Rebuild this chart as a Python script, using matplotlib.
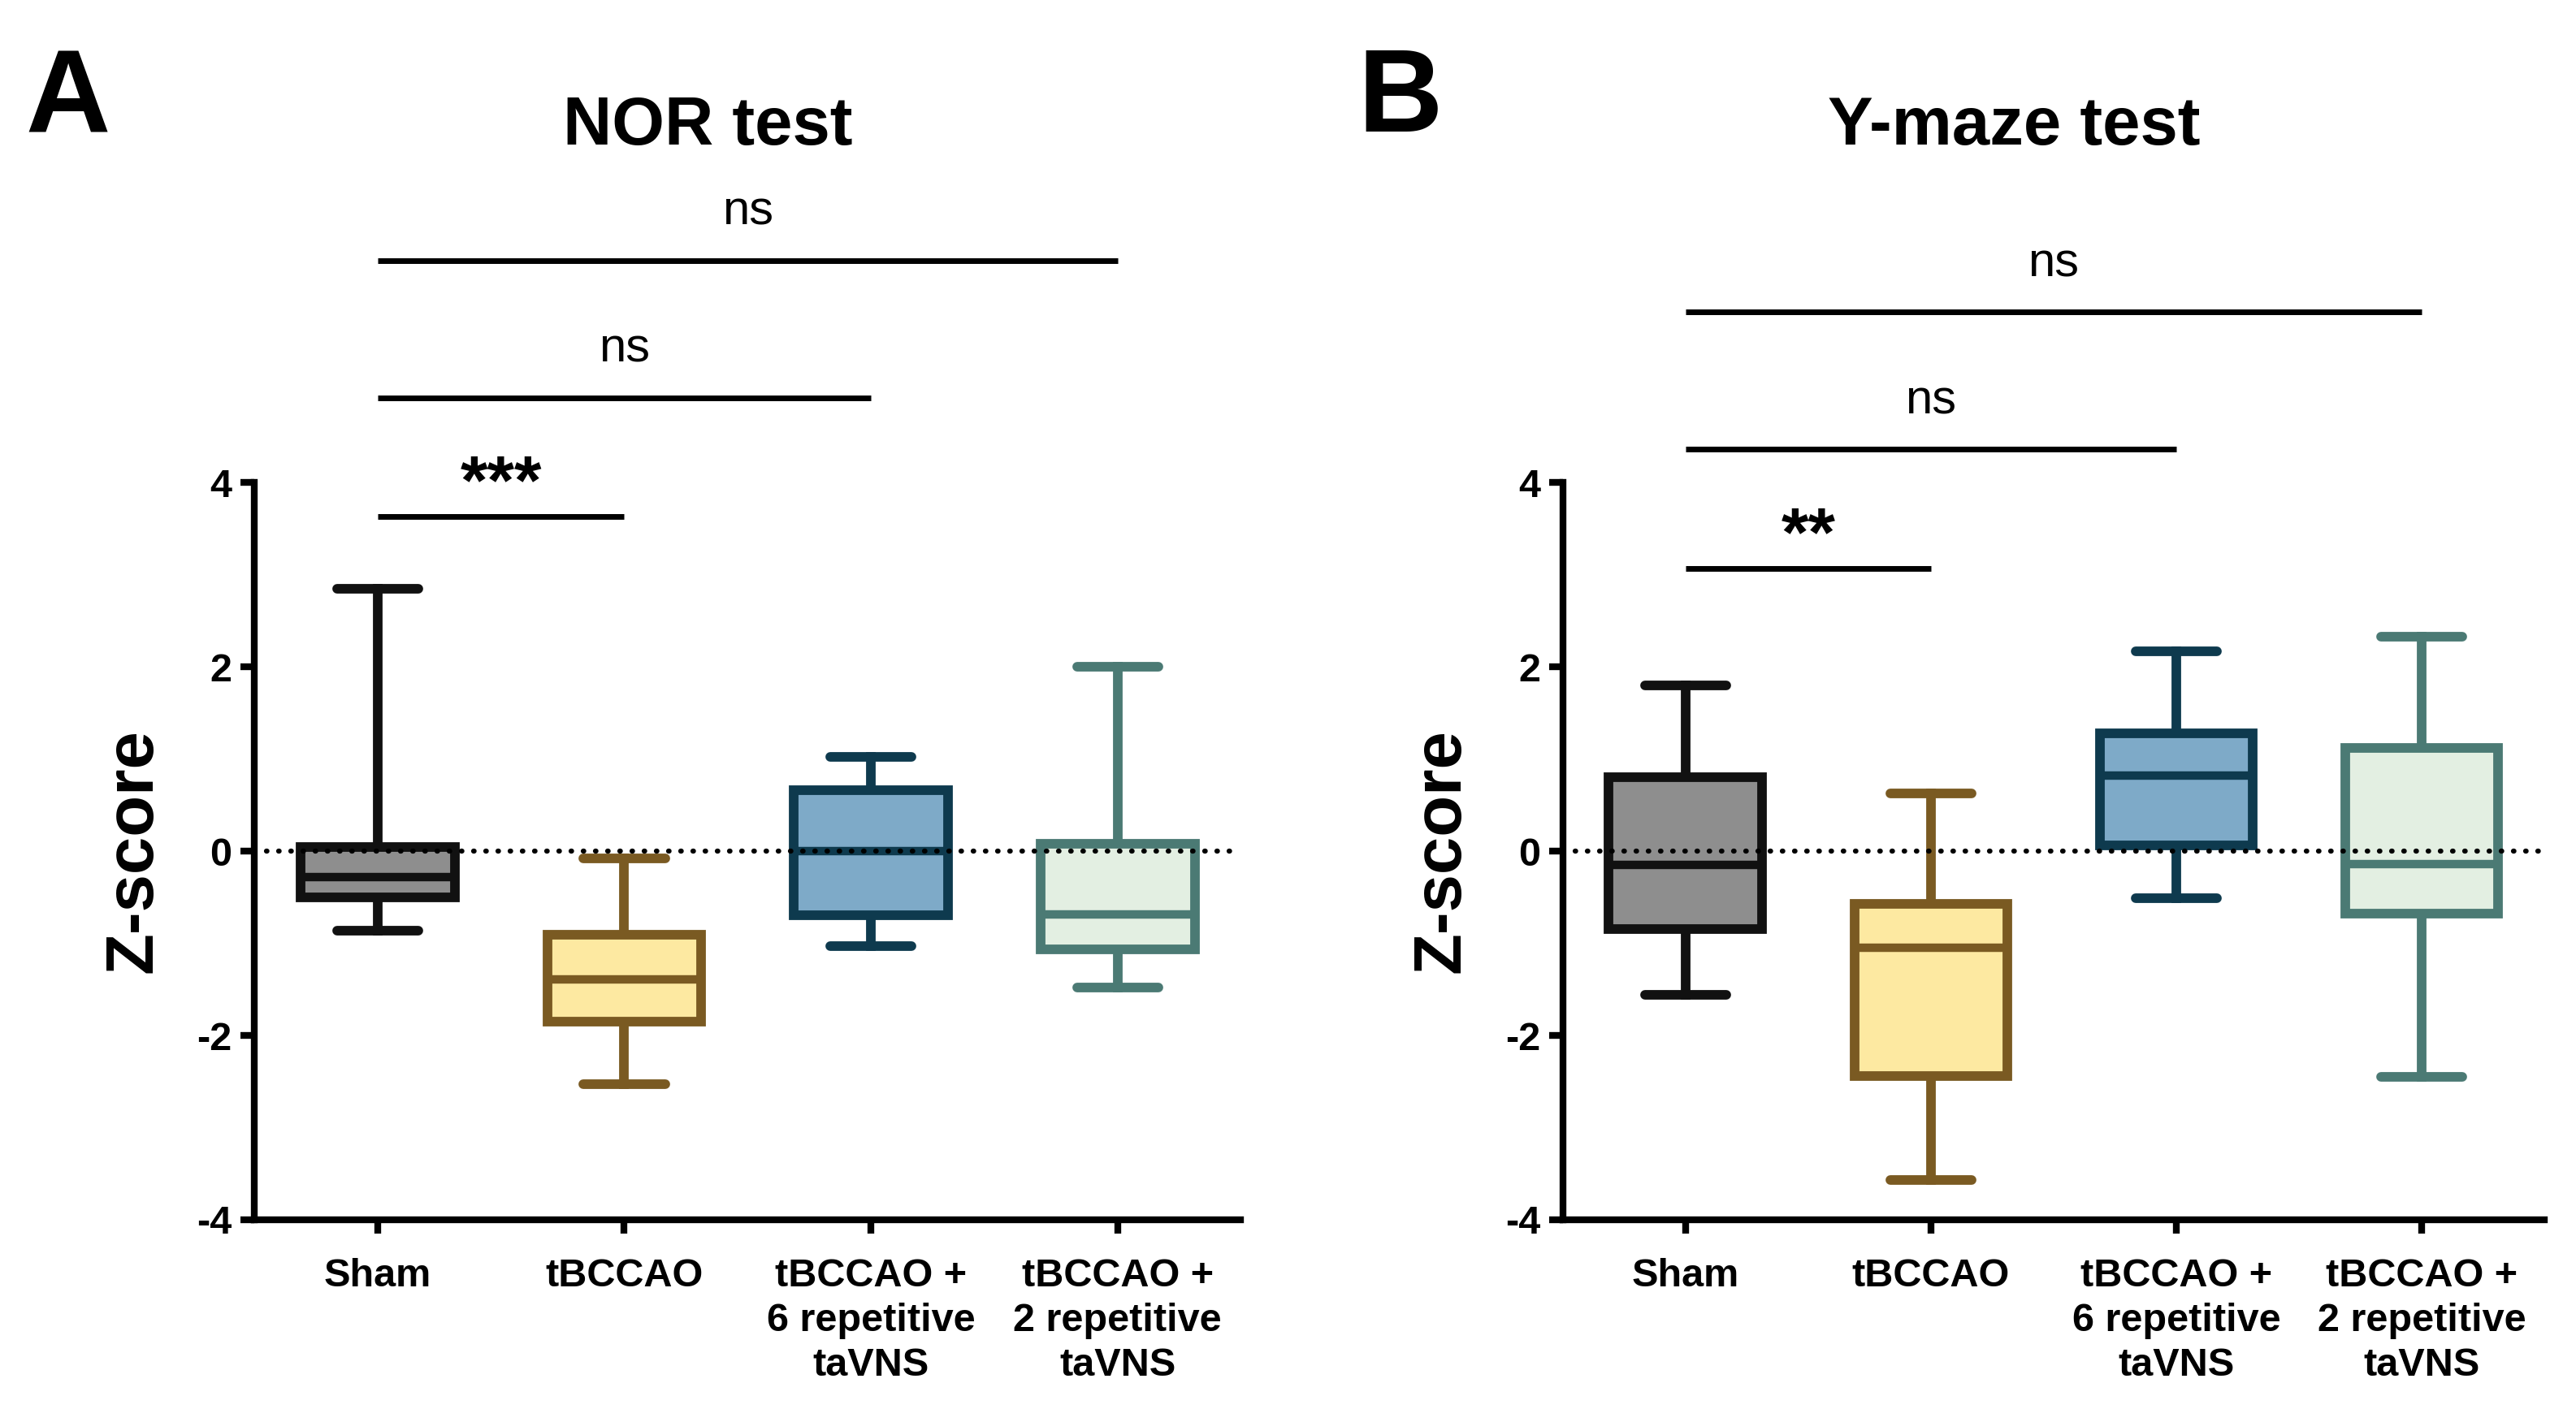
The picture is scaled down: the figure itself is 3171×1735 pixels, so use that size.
import matplotlib
matplotlib.use("Agg")
import matplotlib.pyplot as plt

plt.rcParams['font.family'] = ['Liberation Sans', 'DejaVu Sans']

groups = ["Sham", "tBCCAO", "tBCCAO +\n6 repetitive\ntaVNS", "tBCCAO +\n2 repetitive\ntaVNS"]
face_colors = ["#8e8e8e", "#fde9a1", "#7eaac8", "#e3efe2"]
edge_colors = ["#111111", "#7a5a22", "#0e3a4e", "#4b7a74"]

# box stats: whisker low, Q1, median, Q3, whisker high
nor_low = [-0.86, -2.53, -1.03, -1.48]
nor_q1 = [-0.50, -1.85, -0.70, -1.07]
nor_med = [-0.28, -1.39, 0.00, -0.69]
nor_q3 = [0.04, -0.91, 0.66, 0.08]
nor_high = [2.85, -0.08, 1.02, 2.00]

ym_low = [-1.56, -3.57, -0.51, -2.45]
ym_q1 = [-0.85, -2.44, 0.06, -0.68]
ym_med = [-0.15, -1.05, 0.82, -0.14]
ym_q3 = [0.80, -0.57, 1.28, 1.12]
ym_high = [1.80, 0.63, 2.17, 2.33]

# significance brackets: (from group, to group, bar height, label)
nor_sig = [(0, 1, 3.63, "***"), (0, 2, 4.92, "ns"), (0, 3, 6.41, "ns")]
ym_sig = [(0, 1, 3.07, "**"), (0, 2, 4.36, "ns"), (0, 3, 5.85, "ns")]

W, H = 3171, 1735
fig = plt.figure(figsize=(W / 100, H / 100), dpi=100)
axA = fig.add_axes([0.0987, 0.1343, 0.383, 0.5233])
axB = fig.add_axes([0.6067, 0.1343, 0.381, 0.5233])


def draw_panel(ax, low, q1, med, q3, high, sig, title, letter, letter_x):
    stats = []
    for i in range(len(groups)):
        stats.append(dict(whislo=low[i], q1=q1[i], med=med[i], q3=q3[i],
                          whishi=high[i], fliers=[]))
    bp = ax.bxp(stats, positions=range(len(groups)), widths=0.625,
                patch_artist=True, showfliers=False, manage_ticks=False)
    for i in range(len(groups)):
        bp['boxes'][i].set(facecolor=face_colors[i], edgecolor=edge_colors[i],
                           linewidth=8.5, zorder=3, joinstyle='miter')
        bp['medians'][i].set(color=edge_colors[i], linewidth=7.5, zorder=4,
                             solid_capstyle='butt')
        for w in bp['whiskers'][2 * i:2 * i + 2]:
            w.set(color=edge_colors[i], linewidth=8.5, zorder=2)
        for c in bp['caps'][2 * i:2 * i + 2]:
            c.set(color=edge_colors[i], linewidth=8.5, solid_capstyle='round',
                  xdata=[i - 0.165, i + 0.165])

    ax.axhline(0, color='black', linestyle=(0, (0.1, 2.3)), linewidth=4.5,
               dash_capstyle='round', zorder=5)

    for a, b, y, lab in sig:
        ax.plot([a, b], [y, y], color='black', linewidth=5, clip_on=False,
                solid_capstyle='butt')
        if lab == "ns":
            ax.text((a + b) / 2, y + 0.28, lab, ha='center', va='bottom',
                    fontsize=43, clip_on=False)
        else:
            ax.text((a + b) / 2, y - 0.02, lab, ha='center', va='bottom',
                    fontsize=62, fontweight='bold', clip_on=False)

    ax.set_xlim(-0.5, 3.5)
    ax.set_ylim(-4, 4)
    ax.set_yticks([-4, -2, 0, 2, 4])
    ax.set_yticklabels(["-4", "-2", "0", "2", "4"], fontsize=35, fontweight='bold')
    ax.set_xticks(range(len(groups)))
    ax.set_xticklabels(groups, fontsize=35, fontweight='bold', linespacing=1.28)
    ax.tick_params(axis='both', width=6, length=12, color='black', pad=8)
    ax.tick_params(axis='x', pad=22)
    for s in ['top', 'right']:
        ax.spines[s].set_visible(False)
    for s in ['left', 'bottom']:
        ax.spines[s].set_linewidth(6)
    ax.set_ylabel("Z-score", fontsize=60, fontweight='bold', labelpad=28)
    ax.text(1.34, 7.86, title, ha='center', va='center', fontsize=60,
            fontweight='bold', clip_on=False)
    fig.text(letter_x, 0.967, letter, ha='left', va='top', fontsize=104,
             fontweight='bold')


draw_panel(axA, nor_low, nor_q1, nor_med, nor_q3, nor_high, nor_sig,
           "NOR test", "A", 0.010)
draw_panel(axB, ym_low, ym_q1, ym_med, ym_q3, ym_high, ym_sig,
           "Y-maze test", "B", 0.527)

fig.savefig("out.png", dpi=100)
